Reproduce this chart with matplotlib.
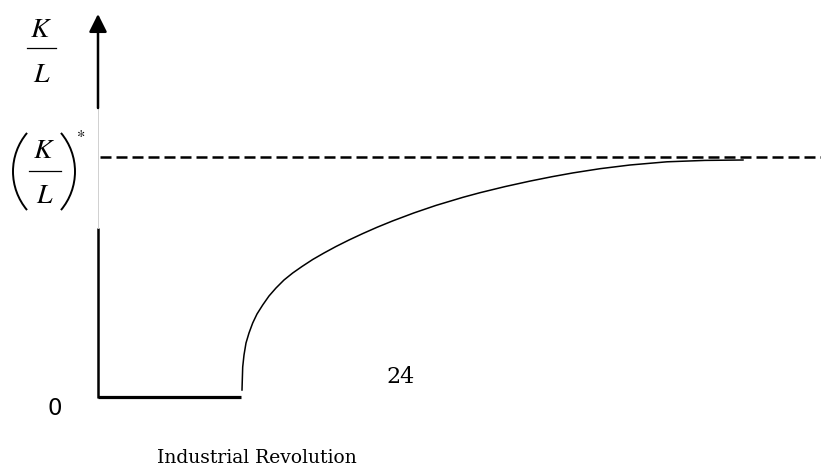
"""Capital per worker before and after the Industrial Revolution."""

import matplotlib
matplotlib.use("Agg")
import matplotlib.pyplot as plt
from matplotlib.patches import Arc

plt.rcParams["mathtext.fontset"] = "stix"

# time axis and capital per worker (arbitrary units, origin at the axes corner)
flat_t = [0, 143]
flat_k = [1, 1]
curve_t = [144, 144.3, 144.7, 146, 148, 151, 154.7, 159, 164.7, 171, 178, 186,
           194.7, 204, 214.7, 226, 238, 251, 264.7, 279, 294.7, 316, 338, 365,
           382, 407, 432, 454, 475, 502, 532, 569, 607, 645]
curve_k = [8, 18, 31, 43, 55, 65, 75, 84, 93, 102, 110, 118,
           125, 131.5, 138.5, 145, 151.5, 158, 164.4, 170.7, 177.1, 185.1,
           192.6, 200.7, 205.3, 211.4, 216.9, 221.3, 225.1, 229.3, 233, 236.2,
           237.6, 238]
steady_k = 241
axis_top = 384

fig = plt.figure(figsize=(8.21, 4.68), dpi=100)
ax = fig.add_axes([0, 0, 1, 1])
ax.set_xlim(-98, 723)
ax.set_ylim(-70, 398)
ax.axis("off")

# vertical axis, with a faint section where the steady-state label sits
ax.plot([0, 0], [0, 170], color="black", lw=1.8, solid_capstyle="butt")
ax.plot([0, 0], [170, 290], color="#d0d0d0", lw=0.7)
ax.annotate("", xy=(0, axis_top), xytext=(0, 290),
            arrowprops=dict(arrowstyle="-|>,head_length=1.08,head_width=0.54",
                            mutation_scale=10, color="black", lw=1.8,
                            shrinkA=0, shrinkB=0))

# steady state level
ax.plot([2, 723], [steady_k, steady_k], color="black", lw=1.8,
        linestyle=(0, (4.4, 2.0)), dash_capstyle="butt")

ax.plot(flat_t, flat_k, color="black", lw=2.3, solid_capstyle="butt")
ax.plot(curve_t, curve_k, color="black", lw=1.1)

# K/L axis label drawn as a stacked fraction
lbl = dict(fontsize=20, ha="center", va="baseline")
ax.text(-57, 361, "$K$", **lbl)
ax.plot([-71, -42], [350, 350], color="black", lw=0.9)
ax.text(-56, 316, "$L$", **lbl)

# (K/L)* label
ax.text(-54, 240, "$K$", **lbl)
ax.plot([-69, -37], [227, 227], color="black", lw=0.9)
ax.text(-53, 195, "$L$", **lbl)
ax.add_patch(Arc((-25, 226.5), 120, 120, theta1=140, theta2=220,
                 color="black", lw=1.4))
ax.add_patch(Arc((-83, 226.5), 120, 120, theta1=-40, theta2=40,
                 color="black", lw=1.4))
ax.text(-17, 256, "*", fontsize=12, ha="center", va="baseline",
        family="STIXGeneral")

ax.text(-43, -17, "0", fontsize=16.5, ha="center", va="baseline",
        family="DejaVu Sans")
ax.text(303, 15, "24", fontsize=16, ha="center", va="baseline",
        family="DejaVu Serif")
ax.text(159, -65, "Industrial Revolution", fontsize=13.5, ha="center",
        va="baseline", family="DejaVu Serif")

fig.savefig("out.png", dpi=100, facecolor="white")
plt.close(fig)
